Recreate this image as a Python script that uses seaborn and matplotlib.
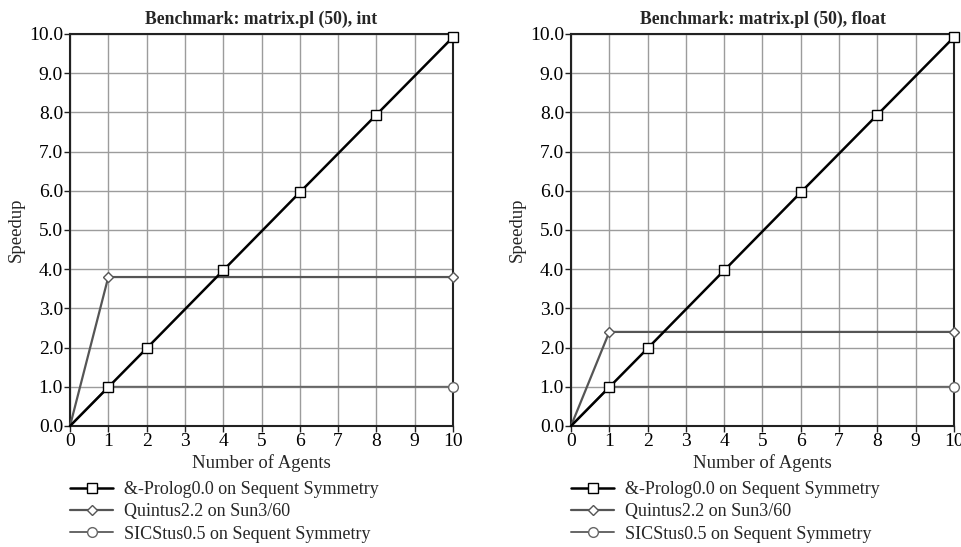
import matplotlib
matplotlib.use("Agg")
import matplotlib.pyplot as plt
import seaborn as sns
import pandas as pd
import numpy as np

sns.set_theme(style="white")
plt.rcParams['font.family'] = ['Liberation Serif', 'DejaVu Serif']

titles = ["Benchmark: matrix.pl (50), int", "Benchmark: matrix.pl (50), float"]
series_names = ["&-Prolog0.0 on Sequent Symmetry", "Quintus2.2 on Sun3/60", "SICStus0.5 on Sequent Symmetry"]

prolog_x = [0, 1, 2, 4, 6, 8, 10]
prolog_y = [0.0, 0.99, 1.98, 3.97, 5.96, 7.94, 9.92]
quintus_x = [0, 1, 10]
quintus_y_int = [0.0, 3.8, 3.8]
quintus_y_float = [0.0, 2.4, 2.4]
sicstus_x = [0, 1, 10]
sicstus_y = [0.0, 1.0, 1.0]

x_ticks = list(range(0, 11))
y_ticks = [0.0, 1.0, 2.0, 3.0, 4.0, 5.0, 6.0, 7.0, 8.0, 9.0, 10.0]

styles = [
    dict(color="black", lw=1.8, marker="s", ms=7.5),
    dict(color="#555555", lw=1.6, marker="D", ms=5),
    dict(color="#666666", lw=1.4, marker="o", ms=7),
]

fig = plt.figure(figsize=(9.62, 5.47), dpi=100)
W, H = 962, 547
positions = [(70, 34, 453, 426), (571, 34, 954, 426)]

for i, (title, quintus_y) in enumerate(zip(titles, [quintus_y_int, quintus_y_float])):
    x0, y0, x1, y1 = positions[i]
    ax = fig.add_axes([x0 / W, 1 - y1 / H, (x1 - x0) / W, (y1 - y0) / H])
    data = [(prolog_x, prolog_y), (quintus_x, quintus_y), (sicstus_x, sicstus_y)]
    order = [2, 1, 0]
    for k in order:
        xs, ys = data[k]
        st = styles[k]
        df = pd.DataFrame({"x": xs, "y": ys})
        sns.lineplot(data=df, x="x", y="y", ax=ax, color=st["color"], lw=st["lw"],
                     marker=st["marker"], markersize=st["ms"], markerfacecolor="white",
                     markeredgecolor=st["color"], markeredgewidth=1.0,
                     markevery=slice(1, None), label=series_names[k], zorder=3 + (2 - k),
                     clip_on=False)
    ax.set_xlim(0, 10)
    ax.set_ylim(0, 10)
    ax.set_xticks(x_ticks)
    ax.set_yticks(y_ticks)
    ax.set_xticklabels([str(t) for t in x_ticks])
    ax.set_yticklabels([f"{t:.1f}" for t in y_ticks])
    ax.grid(True, color="#9c9c9c", lw=1.0, zorder=0)
    ax.set_axisbelow(True)
    for s in ax.spines.values():
        s.set_color("#222222")
        s.set_linewidth(1.5)
    ax.tick_params(axis="both", which="both", direction="out", length=4, width=1,
                   colors="#222222", labelsize=14, pad=1, left=True, bottom=True)
    for lab in ax.get_xticklabels() + ax.get_yticklabels():
        lab.set_color("black")
    ax.set_title(title, fontsize=12.7, fontweight="bold", pad=7)
    ax.set_xlabel("Number of Agents", fontsize=13.5, labelpad=3)
    ax.set_ylabel("Speedup", fontsize=13.5, labelpad=3)
    handles, labels = ax.get_legend_handles_labels()
    hmap = dict(zip(labels, handles))
    ax.legend([hmap[n] for n in series_names], series_names, loc="upper left",
              bbox_to_anchor=(0.0, -0.14), frameon=False, fontsize=13,
              handlelength=2.4, handletextpad=0.6, labelspacing=0.3,
              borderpad=0, borderaxespad=0, markerfirst=True)

fig.savefig("out.png", dpi=100)
